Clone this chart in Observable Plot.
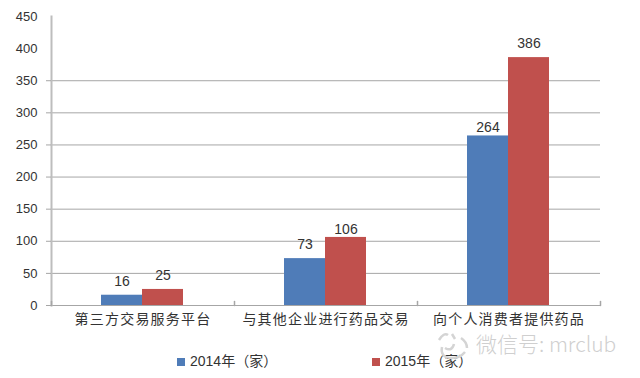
<!DOCTYPE html>
<html><head><meta charset="utf-8">
<script src="https://cdn.jsdelivr.net/npm/d3@7"></script>
<script src="https://cdn.jsdelivr.net/npm/@observablehq/plot@0.6"></script>
<style>
html,body{margin:0;padding:0;background:#fff}
#c{position:relative;width:640px;height:378px;overflow:hidden;font-family:"Noto Sans CJK SC","Liberation Sans",sans-serif}
#c>svg{display:block}
g[aria-label="fx-axis tick label"] text{letter-spacing:1.2px}
.lg{position:absolute;top:352px;font-size:14px;color:#333;line-height:18px;white-space:nowrap;font-family:"Liberation Sans","Noto Sans CJK SC",sans-serif}
.lg i{display:inline-block;width:8px;height:8px;margin-right:5px;vertical-align:0}
#wm{position:absolute;left:476px;top:329px;font-size:21px;line-height:28px;color:#cfcfcf;white-space:nowrap;font-weight:300;font-family:"Noto Sans CJK SC",sans-serif}
#ic{position:absolute;left:436px;top:330px}
</style></head><body><div id="c"></div>
<script>
const categories = ["第三方交易服务平台","与其他企业进行药品交易","向个人消费者提供药品"];
const seriesNames = ["2014年（家）","2015年（家）"];
const values2014 = [16,73,264];
const values2015 = [25,106,386];
const seriesColors = ["#4f7cb8","#c0504d"];
const yTicks = [0,50,100,150,200,250,300,350,400,450];
const gridTicks = [0,50,100,150,200,250,300,350];
const lowLabels = [106,264];
const rows = categories.flatMap((c,i)=>[
  {c,s:seriesNames[0],v:values2014[i]},
  {c,s:seriesNames[1],v:values2015[i]}]);
const axisGray = "#a6a6a6";
const tickShape = {draw(ctx,l){ctx.moveTo(0,0);ctx.lineTo(0,l);}};
const tickOpts = {length:4,rotate:180,anchor:"start",shape:tickShape,stroke:axisGray};
const chart = Plot.plot({
  width:640,height:345,
  marginLeft:51,marginRight:40,marginTop:16,marginBottom:40,
  style:{fontFamily:'"Liberation Sans","Noto Sans CJK SC",sans-serif',fontSize:"13px",color:"#333",background:"transparent"},
  fx:{domain:categories,padding:0,label:null,axis:null},
  x:{domain:seriesNames,paddingInner:0,paddingOuter:1.23,axis:null,label:null},
  y:{domain:[0,450],label:null,axis:null},
  color:{domain:seriesNames,range:seriesColors},
  marks:[
    Plot.ruleY(gridTicks,{stroke:axisGray,strokeWidth:1}),
    Plot.frame({anchor:"left",stroke:"#bdbdbd",strokeWidth:2,fx:[categories[0]]}),
    Plot.vector(categories,{...tickOpts,fx:d=>d,frameAnchor:"bottom-left"}),
    Plot.vector([categories[2]],{...tickOpts,fx:d=>d,frameAnchor:"bottom-right"}),
    Plot.axisY(gridTicks,{anchor:"left",tickSize:5,stroke:axisGray,tickFormat:()=>"",label:null}),
    Plot.axisY(yTicks,{anchor:"left",tickSize:0,tickPadding:14,tickFormat:d=>d,fontSize:13,fill:"#333",label:null}),
    Plot.axisFx({anchor:"bottom",tickSize:0,tickPadding:9,fontSize:14,fill:"#333",label:null,fontFamily:'"Noto Sans CJK SC",sans-serif'}),
    Plot.barY(rows,{fx:"c",x:"s",y:"v",fill:"s",dx:-1}),
    Plot.text(rows.filter(d=>!lowLabels.includes(d.v)),{fx:"c",x:"s",y:"v",text:"v",dx:-1,dy:-14,fontSize:14,fill:"#333"}),
    Plot.text(rows.filter(d=>lowLabels.includes(d.v)),{fx:"c",x:"s",y:"v",text:"v",dx:-1,dy:-8,fontSize:14,fill:"#333"})
  ]
});
const root = document.getElementById("c");
root.append(chart);
seriesNames.forEach((name,i)=>{
  const d = document.createElement("div");
  d.className = "lg";
  d.style.left = (i===0?177:372)+"px";
  const sw = document.createElement("i");
  sw.style.background = seriesColors[i];
  d.append(sw, name);
  root.append(d);
});
const wm = document.createElement("div");
wm.id = "wm";
wm.textContent = "微信号: mrclub";
root.append(wm);
const ic = document.createElement("div");
ic.id = "ic";
ic.innerHTML = '<svg width="34" height="30" fill="none" stroke="#d4d4d4" stroke-width="2.5"><path d="M3 10 Q8 2 12 5 M16 4 l3 5 M25 8 Q31 12 31 18 M6 17 Q4 28 16 28 Q24 28 29 22 M9 18 Q16 22 18 14"/></svg>';
root.append(ic);
</script></body></html>
